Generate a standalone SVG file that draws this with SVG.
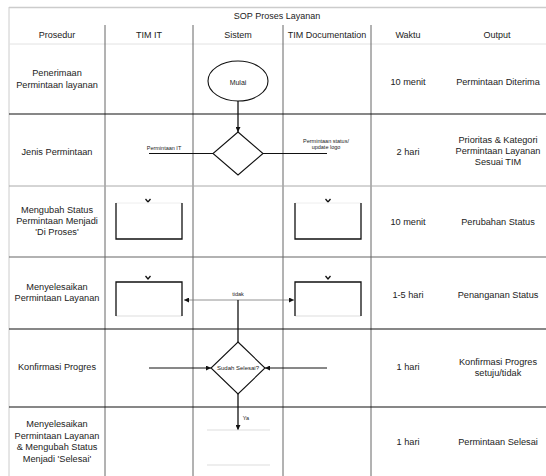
<svg xmlns="http://www.w3.org/2000/svg" width="546" height="476" viewBox="0 0 546 476">
<defs>
<style>
text{font-family:"Liberation Sans",Arial,sans-serif;fill:#222;text-anchor:middle;dominant-baseline:central}
.h{font-size:9px}
.t{font-size:9.2px}
.s{font-size:5.5px}
.grid-v{stroke:#666;stroke-width:1}
.grid-h{stroke:#111;stroke-width:1.2}
.light{stroke:#ccc;stroke-width:1}
.ln{stroke:#111;stroke-width:1.3;fill:none}
.thin{stroke:#777;stroke-width:0.8;fill:none}
.shape{stroke:#111;stroke-width:1.1;fill:#fff}
</style>
<marker id="ah" viewBox="0 0 10 10" refX="10" refY="5" markerWidth="5" markerHeight="5" orient="auto" markerUnits="userSpaceOnUse">
<path d="M0,0 L10,5 L0,10 Z" fill="#111"/>
</marker>
</defs>
<rect width="546" height="476" fill="#fff"/>

<g id="grid">
<line x1="9" y1="7.5" x2="546" y2="7.5" stroke="#ccc" stroke-width="1.5"/>
<line x1="9" y1="7" x2="9" y2="476" class="light"/>
<line x1="9" y1="44" x2="546" y2="44" stroke="#e2e2e2" stroke-width="1"/>
<line x1="105" y1="25" x2="105" y2="476" class="grid-v"/>
<line x1="193" y1="25" x2="193" y2="476" class="grid-v"/>
<line x1="283" y1="25" x2="283" y2="476" class="grid-v"/>
<line x1="371" y1="25" x2="371" y2="476" class="grid-v"/>
<line x1="9" y1="114" x2="546" y2="114" class="grid-h"/>
<line x1="9" y1="186" x2="546" y2="186" stroke="#aaa" stroke-width="1"/>
<line x1="9" y1="257" x2="546" y2="257" stroke="#666" stroke-width="1.1"/>
<line x1="9" y1="329" x2="546" y2="329" class="grid-h"/>
<line x1="9" y1="407" x2="546" y2="407" class="grid-h"/>
</g>

<g id="headers">
<text x="277" y="16" class="h">SOP Proses Layanan</text>
<text x="57" y="35" class="h">Prosedur</text>
<text x="149" y="35" class="h">TIM IT</text>
<text x="238" y="35" class="h">Sistem</text>
<text x="327" y="35" class="h">TIM Documentation</text>
<text x="408" y="35" class="h">Waktu</text>
<text x="497" y="35" class="h">Output</text>
</g>

<g id="row1">
<text x="57" y="73" class="t">Penerimaan</text>
<text x="57" y="85" class="t">Permintaan layanan</text>
<text x="408" y="82" class="t">10 menit</text>
<text x="498" y="82" class="t">Permintaan Diterima</text>
</g>
<g id="row2">
<text x="57" y="152" class="t">Jenis Permintaan</text>
<text x="408" y="152" class="t">2 hari</text>
<text x="498" y="140" class="t">Prioritas &amp; Kategori</text>
<text x="498" y="151" class="t">Permintaan Layanan</text>
<text x="498" y="162" class="t">Sesuai TIM</text>
</g>
<g id="row3">
<text x="57" y="210" class="t">Mengubah Status</text>
<text x="57" y="221" class="t">Permintaan Menjadi</text>
<text x="57" y="232" class="t">'Di Proses'</text>
<text x="408" y="222" class="t">10 menit</text>
<text x="498" y="222" class="t">Perubahan Status</text>
</g>
<g id="row4">
<text x="57" y="287" class="t">Menyelesaikan</text>
<text x="57" y="298" class="t">Permintaan Layanan</text>
<text x="408" y="295" class="t">1-5 hari</text>
<text x="498" y="295" class="t">Penanganan Status</text>
</g>
<g id="row5">
<text x="57" y="367" class="t">Konfirmasi Progres</text>
<text x="408" y="367" class="t">1 hari</text>
<text x="498" y="362" class="t">Konfirmasi Progres</text>
<text x="498" y="373" class="t">setuju/tidak</text>
</g>
<g id="row6">
<text x="57" y="424" class="t">Menyelesaikan</text>
<text x="57" y="436" class="t">Permintaan Layanan</text>
<text x="57" y="447" class="t">&amp; Mengubah Status</text>
<text x="57" y="459" class="t">Menjadi 'Selesai'</text>
<text x="408" y="442" class="t">1 hari</text>
<text x="498" y="442" class="t">Permintaan Selesai</text>
</g>

<g id="connectors">
<line x1="238" y1="101" x2="238" y2="132" class="ln" marker-end="url(#ah)"/>
<line x1="149" y1="153.5" x2="213" y2="153.5" stroke="#111" stroke-width="1"/>
<line x1="263" y1="153.5" x2="327" y2="153.5" stroke="#111" stroke-width="1"/>
<line x1="238" y1="300" x2="184" y2="300" class="thin" marker-end="url(#ah)"/>
<line x1="238" y1="300" x2="294" y2="300" class="thin" marker-end="url(#ah)"/>
<line x1="238" y1="300" x2="238" y2="342" class="ln"/>
<line x1="149" y1="368" x2="211" y2="368" stroke="#111" stroke-width="1" marker-end="url(#ah)"/>
<line x1="327" y1="368" x2="265" y2="368" stroke="#111" stroke-width="1" marker-end="url(#ah)"/>
<line x1="238" y1="394" x2="238" y2="430" class="ln" marker-end="url(#ah)"/>
<path d="M145.5,199 L148,202 L150.5,199" class="ln" stroke-width="1"/>
<path d="M325.5,199 L328,202 L330.5,199" class="ln" stroke-width="1"/>
<path d="M145.5,276 L148,279 L150.5,276" class="ln" stroke-width="1"/>
<path d="M325.5,276 L328,279 L330.5,276" class="ln" stroke-width="1"/>
<text x="164" y="148" class="s">Permintaan IT</text>
<text x="326" y="140.5" class="s">Permintaan status/</text>
<text x="326" y="147" class="s">update logo</text>
<text x="238" y="294" class="s">tidak</text>
<text x="246" y="418" class="s">Ya</text>
</g>

<g id="mulai">
<ellipse cx="238" cy="81" rx="30" ry="20" class="shape"/>
<text x="238" y="82" font-size="7">Mulai</text>
</g>
<g id="decision1">
<polygon points="238,132 263,153.5 238,175 213,153.5" class="shape" stroke-width="1.3"/>
</g>
<g id="it-box1">
<line x1="116" y1="203" x2="182" y2="203" stroke="#eee" stroke-width="1"/>
<path d="M116,203 V239 H182 V203" fill="none" stroke="#111" stroke-width="1.3"/>
</g>
<g id="doc-box1">
<line x1="295" y1="203" x2="361" y2="203" stroke="#eee" stroke-width="1"/>
<path d="M295,203 V239 H361 V203" fill="none" stroke="#111" stroke-width="1.3"/>
</g>
<g id="it-box2">
<line x1="116" y1="316" x2="182" y2="316" stroke="#ddd" stroke-width="1"/>
<path d="M116,316 V282 H182 V316" fill="none" stroke="#111" stroke-width="1.3"/>
</g>
<g id="doc-box2">
<line x1="295" y1="316" x2="361" y2="316" stroke="#ddd" stroke-width="1"/>
<path d="M295,316 V282 H361 V316" fill="none" stroke="#111" stroke-width="1.3"/>
</g>
<g id="decision2">
<polygon points="238,342 265,368 238,394 211,368" class="shape" stroke-width="1.3"/>
<text x="238" y="368" font-size="6">Sudah Selesai?</text>
</g>
<g id="end-box">
<line x1="207" y1="430" x2="270" y2="430" stroke="#ddd" stroke-width="1"/>
<line x1="207" y1="465" x2="270" y2="465" stroke="#ddd" stroke-width="1"/>
</g>
</svg>
